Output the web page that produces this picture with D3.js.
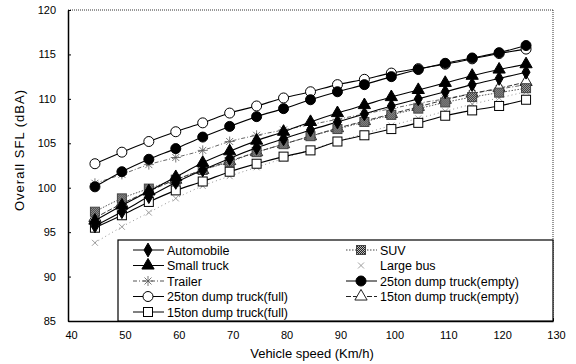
<!DOCTYPE html>
<html>
<head>
<meta charset="utf-8">
<script src="https://cdn.jsdelivr.net/npm/d3@7"></script>
<style>
  body { margin: 0; background: #fff; }
  svg { display: block; font-family: "Liberation Sans", Arial, sans-serif; }
</style>
</head>
<body>
<svg id="chart" width="576" height="364"></svg>
<script>
// speeds (km/h)
const speeds = [45, 50, 55, 60, 65, 70, 75, 80, 85, 90, 95, 100, 105, 110, 115, 120, 125];

// SPL values (dBA)
const automobile   = [95.7, 97.3, 99.0, 100.6, 102.0, 103.3, 104.5, 105.5, 106.5, 107.4, 108.3, 109.2, 110.0, 110.8, 111.6, 112.3, 113.0];
const suv          = [97.3, 98.8, 99.9, 100.9, 102.0, 102.9, 104.0, 104.9, 105.8, 106.6, 107.4, 108.2, 108.9, 109.6, 110.2, 110.7, 111.2];
const smallTruck   = [96.3, 98.0, 99.6, 101.2, 102.8, 104.1, 105.3, 106.3, 107.4, 108.4, 109.3, 110.2, 111.0, 111.8, 112.6, 113.3, 113.9];
const largeBus     = [93.8, 95.6, 97.2, 98.8, 100.2, 101.3, 102.3, 103.3, 104.3, 105.2, 106.1, 107.0, 107.8, 108.6, 109.4, 110.1, 110.8];
const trailer      = [100.5, 101.5, 102.6, 103.4, 104.2, 105.2, 105.9, 106.5, 107.1, 107.7, 108.3, 108.9, 109.5, 110.0, 110.6, 111.1, 111.6];
const dump25Empty  = [100.1, 101.8, 103.2, 104.4, 105.7, 106.9, 108.0, 108.9, 109.9, 110.8, 111.6, 112.5, 113.3, 114.0, 114.6, 115.2, 116.0];
const dump25Full   = [102.7, 104.0, 105.2, 106.3, 107.3, 108.4, 109.2, 110.1, 110.8, 111.6, 112.2, 112.9, 113.4, 113.9, 114.5, 115.1, 115.6];
const dump15Empty  = [96.6, 98.2, 99.6, 100.9, 102.0, 103.0, 104.0, 104.9, 105.8, 106.7, 107.5, 108.3, 109.1, 109.9, 110.6, 111.2, 111.9];
const dump15Full   = [95.5, 96.9, 98.4, 99.7, 100.7, 101.8, 102.7, 103.5, 104.2, 105.2, 105.9, 106.6, 107.3, 108.1, 108.7, 109.2, 109.9];

const xTicks = [40, 50, 60, 70, 80, 90, 100, 110, 120, 130];
const yTicks = [85, 90, 95, 100, 105, 110, 115, 120];

const series = [
  { name: "Automobile",              values: automobile,  marker: "diamond",  fill: "#000", dash: null,      stroke: "#000", col: 0 },
  { name: "SUV",                     values: suv,         marker: "square",   fill: "url(#check)", dash: "1.5,1.5", stroke: "#444", col: 1 },
  { name: "Small truck",             values: smallTruck,  marker: "triangle", fill: "#000", dash: null,      stroke: "#000", col: 0 },
  { name: "Large bus",               values: largeBus,    marker: "cross",    fill: "none", dash: "1,3",     stroke: "#888", col: 1 },
  { name: "Trailer",                 values: trailer,     marker: "asterisk", fill: "none", dash: "4,2,1,2", stroke: "#555", col: 0 },
  { name: "25ton dump truck(empty)", values: dump25Empty, marker: "circle",   fill: "#000", dash: null,      stroke: "#000", col: 1 },
  { name: "25ton dump truck(full)",  values: dump25Full,  marker: "circle",   fill: "#fff", dash: null,      stroke: "#000", col: 0 },
  { name: "15ton dump truck(empty)", values: dump15Empty, marker: "triangle", fill: "#fff", dash: "5,2",     stroke: "#222", col: 1 },
  { name: "15ton dump truck(full)",  values: dump15Full,  marker: "square",   fill: "#fff", dash: null,      stroke: "#000", col: 0 }
];

const svg = d3.select("#chart");
const margin = { left: 68, right: 23, top: 10, bottom: 43 };
const width = 576 - margin.left - margin.right;
const height = 364 - margin.top - margin.bottom;

const x = d3.scaleLinear().domain([40, 130]).range([margin.left, margin.left + width]);
const y = d3.scaleLinear().domain([85, 120]).range([margin.top + height, margin.top]);

// checkered fill for SUV marker
const defs = svg.append("defs");
const pat = defs.append("pattern").attr("id", "check")
  .attr("width", 2).attr("height", 2).attr("patternUnits", "userSpaceOnUse");
pat.append("rect").attr("width", 2).attr("height", 2).attr("fill", "#bbb");
pat.append("rect").attr("width", 1).attr("height", 1).attr("fill", "#222");
pat.append("rect").attr("x", 1).attr("y", 1).attr("width", 1).attr("height", 1).attr("fill", "#222");

// frame: dotted top/right, solid left/bottom
svg.append("line").attr("x1", x(40)).attr("x2", x(130)).attr("y1", y(120)).attr("y2", y(120))
  .attr("stroke", "#333").attr("stroke-dasharray", "1,1");
svg.append("line").attr("x1", x(130)).attr("x2", x(130)).attr("y1", y(120)).attr("y2", y(85))
  .attr("stroke", "#333").attr("stroke-dasharray", "1,1");

const xAxis = svg.append("g").attr("transform", `translate(0,${y(85)})`)
  .call(d3.axisBottom(x).tickValues(xTicks).tickSizeInner(-3).tickSizeOuter(0).tickPadding(10));
const yAxis = svg.append("g").attr("transform", `translate(${x(40)},0)`)
  .call(d3.axisLeft(y).tickValues(yTicks).tickSizeInner(-3).tickSizeOuter(0).tickPadding(12));

[xAxis, yAxis].forEach(ax => {
  ax.select(".domain").attr("stroke", "#000").attr("stroke-width", 1.5);
  ax.selectAll(".tick line").attr("stroke", "#000");
  ax.selectAll("text").attr("font-size", 11).attr("fill", "#000")
    .attr("font-family", "\"Liberation Sans\", Arial, sans-serif");
});
xAxis.selectAll("text").attr("dx", 3);

// axis titles
svg.append("text").attr("x", 312).attr("y", 358).attr("text-anchor", "middle")
  .attr("font-size", 13).text("Vehicle speed (Km/h)");
svg.append("text").attr("transform", "translate(24,150) rotate(-90)").attr("text-anchor", "middle")
  .attr("font-size", 13).attr("letter-spacing", 1).text("Overall SFL (dBA)");

// marker drawing
const drawMarker = (g, type, fill, stroke) => {
  switch (type) {
    case "circle":
      g.append("circle").attr("r", 5).attr("fill", fill).attr("stroke", stroke).attr("stroke-width", 1);
      break;
    case "square":
      g.append("rect").attr("x", -4.5).attr("y", -4.5).attr("width", 9).attr("height", 9)
        .attr("fill", fill).attr("stroke", stroke).attr("stroke-width", 1);
      break;
    case "diamond":
      g.append("path").attr("d", d3.symbol(d3.symbolDiamond, 55)()).attr("fill", fill).attr("stroke", stroke);
      break;
    case "triangle":
      g.append("path").attr("d", d3.symbol(d3.symbolTriangle, 65)()).attr("fill", fill).attr("stroke", stroke);
      break;
    case "cross":
      g.append("path").attr("d", "M-3,-3L3,3M-3,3L3,-3").attr("stroke", stroke).attr("stroke-width", 0.8);
      break;
    case "asterisk":
      g.append("path").attr("d", "M-5,0L5,0M0,-5L0,5M-3.5,-3.5L3.5,3.5M-3.5,3.5L3.5,-3.5")
        .attr("stroke", stroke).attr("stroke-width", 0.8);
      break;
  }
};

const line = d3.line().x((d, i) => x(speeds[i])).y(d => y(d)).curve(d3.curveMonotoneX);

const plot = svg.append("g");
// draw in back-to-front order so black circles and triangles sit on top
const drawOrder = [3, 4, 8, 7, 1, 0, 2, 6, 5];
drawOrder.forEach(idx => {
  const s = series[idx];
  plot.append("path").datum(s.values).attr("d", line)
    .attr("fill", "none").attr("stroke", s.stroke).attr("stroke-width", s.dash ? 0.9 : 1.1)
    .attr("stroke-dasharray", s.dash);
  s.values.forEach((v, i) => {
    const g = plot.append("g").attr("transform", `translate(${x(speeds[i])},${y(v)})`);
    drawMarker(g, s.marker, s.fill, s.stroke);
  });
});

// legend
const legend = svg.append("g");
legend.append("rect").attr("x", 118).attr("y", 240).attr("width", x(130) - 118).attr("height", y(85) - 240)
  .attr("fill", "#fff").attr("stroke", "#000").attr("stroke-width", 1.2);

const colX = [133, 346];
const rowCount = [0, 0];
series.forEach(s => {
  const row = rowCount[s.col]++;
  const ly = 250 + row * 15.5;
  const lx = colX[s.col];
  const g = legend.append("g");
  g.append("line").attr("x1", lx).attr("x2", lx + 31).attr("y1", ly).attr("y2", ly)
    .attr("stroke", s.marker === "cross" ? "none" : s.stroke).attr("stroke-width", 1)
    .attr("stroke-dasharray", s.dash);
  const mg = g.append("g").attr("transform", `translate(${lx + 15},${ly})`);
  drawMarker(mg, s.marker, s.fill, s.stroke);
  g.append("text").attr("x", lx + 34).attr("y", ly + 4.5).attr("font-size", 12.5).text(s.name);
});
</script>
</body>
</html>
